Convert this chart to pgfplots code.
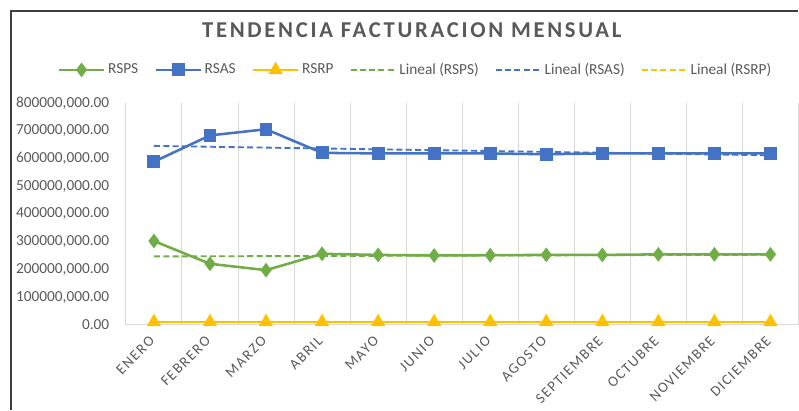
\documentclass[border=0pt]{standalone}
\usepackage{pgfplots}
\pgfplotsset{compat=1.18}
\usepackage{fontspec}
\setmainfont{Carlito}
\newfontfamily\titlefont[LetterSpace=12]{Carlito}
\newfontfamily\catfont[LetterSpace=10]{Carlito}
\definecolor{cgreen}{HTML}{70AD47}
\definecolor{cblue}{HTML}{4472C4}
\definecolor{cgold}{HTML}{FFC000}
\definecolor{ctext}{HTML}{595959}
\definecolor{cgrid}{HTML}{D9D9D9}
\begin{document}
\begin{tikzpicture}
% frame and title in pixel coordinates of the reference (origin = axis corner)
\begin{scope}[x=0.75pt,y=-0.75pt,shift={(-126,-325)}]
\path[use as bounding box] (0,0) rectangle (799,410);
\draw[color=ctext!70!black, line width=1.1pt] (11,410) -- (11,11) -- (799,11);
\node[text=ctext, font=\titlefont\bfseries\fontsize{17}{20}\selectfont] at (412,30) {TENDENCIA FACTURACION MENSUAL};
\end{scope}
\begin{axis}[
  scale only axis, width=504.75pt, height=166.5pt,
  xmin=0.5, xmax=12.5, ymin=0, ymax=800,
  separate axis lines,
  axis x line*=bottom, axis y line*=left,
  x axis line style={draw=cgrid, line width=0.8pt, -},
  y axis line style={draw=none},
  major tick style={draw=none}, minor tick style={draw=none},
  xtick={1,...,12},
  xticklabels={ENERO,FEBRERO,MARZO,ABRIL,MAYO,JUNIO,JULIO,AGOSTO,SEPTIEMBRE,OCTUBRE,NOVIEMBRE,DICIEMBRE},
  minor xtick={0.5,1.5,...,12.5},
  xminorgrids=true,
  minor grid style={draw=cgrid, line width=0.75pt},
  xticklabel style={yshift=-8pt, xshift=1pt, rotate=45, anchor=east, font=\catfont\fontsize{11}{13}\selectfont, text=ctext},
  ytick={0,100,...,800},
  yticklabels={0.00,{100000,000.00},{200000,000.00},{300000,000.00},{400000,000.00},{500000,000.00},{600000,000.00},{700000,000.00},{800000,000.00}},
  yticklabel style={font=\fontsize{11.5}{13}\selectfont, text=ctext, xshift=-9pt},
  legend columns=6,
  legend style={at={(0.431,1.149)}, anchor=center, draw=none, fill=none,
    font=\fontsize{11.5}{13}\selectfont, text=ctext,
    /tikz/every even column/.append style={column sep=10pt}},
  legend image code/.code={\draw[mark repeat=2,mark phase=2,#1] plot coordinates {(0pt,0pt) (17pt,0pt) (34pt,0pt)};},
  clip=false,
]
\addplot[cgreen, line width=1.9pt, mark=diamond*, mark size=4pt] coordinates {
  (1,302) (2,220) (3,197) (4,256) (5,252) (6,250) (7,251) (8,252) (9,252) (10,254) (11,254) (12,254)};
\addlegendentry{RSPS}
\addplot[cblue, line width=1.9pt, mark=square*, mark size=3.9pt] coordinates {
  (1,588) (2,683) (3,705) (4,620) (5,618) (6,618) (7,618) (8,615) (9,618) (10,618) (11,618) (12,618)};
\addlegendentry{RSAS}
\addplot[cgold, line width=1.9pt, mark=triangle*, mark size=4.3pt] coordinates {
  (1,10) (2,10) (3,10) (4,10) (5,10) (6,10) (7,10) (8,10) (9,10) (10,10) (11,10) (12,10)};
\addlegendentry{RSRP}
\addplot[cgreen, line width=1.4pt, dash pattern=on 4.5pt off 2.5pt] coordinates {(1,246.5) (12,252.5)};
\addlegendentry{Lineal (RSPS)}
\addplot[cblue, line width=1.4pt, dash pattern=on 4.5pt off 2.5pt] coordinates {(1,645.1) (12,611.1)};
\addlegendentry{Lineal (RSAS)}
\addplot[cgold, line width=1.4pt, dash pattern=on 4.5pt off 2.5pt] coordinates {(1,10) (12,10)};
\addlegendentry{Lineal (RSRP)}
\end{axis}
\end{tikzpicture}
\end{document}
